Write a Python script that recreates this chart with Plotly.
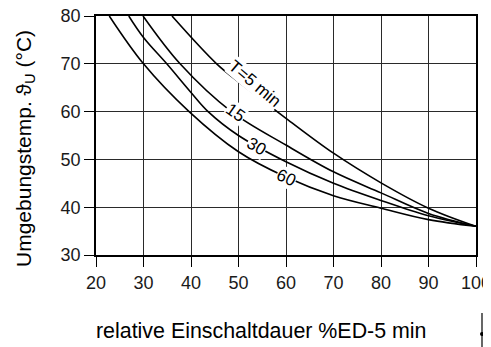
import plotly.graph_objects as go

# Data (x = relative Einschaltdauer %, y = Umgebungstemp. °C)
x_t5 = [36.0, 45.4, 50.3, 60.0, 70.0, 80.0, 90.0, 100.0]
y_t5 = [80.0, 70.0, 66.0, 58.6, 51.3, 45.1, 39.8, 36.0]

x_t15 = [29.9, 37.7, 48.5, 60.0, 70.0, 80.0, 90.0, 100.0]
y_t15 = [80.0, 70.0, 60.0, 53.0, 47.4, 43.0, 38.7, 36.0]

x_t30 = [26.9, 30.0, 34.9, 40.0, 43.6, 50.0, 60.0, 70.0, 80.0, 90.0, 100.0]
y_t30 = [80.0, 75.5, 70.0, 64.0, 60.0, 55.0, 49.5, 45.0, 41.4, 38.2, 36.0]

x_t60 = [22.8, 30.0, 39.6, 50.0, 60.0, 70.0, 80.0, 90.0, 100.0]
y_t60 = [80.0, 70.0, 60.0, 51.6, 46.3, 42.4, 39.8, 37.4, 36.0]

curve_labels = ["T=5 min", "15", "30", "60"]
label_x = [53.4, 49.3, 53.8, 60.0]
label_y = [65.9, 59.8, 52.7, 46.3]
label_angle = [40, 35, 30, 25]

x_ticks = [20, 30, 40, 50, 60, 70, 80, 90, 100]
y_ticks = [30, 40, 50, 60, 70, 80]

x_title = "relative Einschaltdauer %ED-5 min"
y_title = "Umgebungstemp. \u03d1<sub>U</sub> (\u00b0C)"

# page body has an 8px margin -> work in screen pixels and subtract it
OFF = 8
W, H = 491 - OFF, 347 - OFF
ML, MT = 96 - OFF, 16 - OFF
MR = W - (476 - OFF)
MB = H - (255 - OFF)
PW, PH = W - ML - MR, H - MT - MB

def px_to_paper_x(px):
    return (px - OFF - ML) / PW

def py_to_paper_y(py):
    return (H - MB - (py - OFF)) / PH

fig = go.Figure()
for xs, ys in [(x_t5, y_t5), (x_t15, y_t15), (x_t30, y_t30), (x_t60, y_t60)]:
    fig.add_trace(go.Scatter(x=xs, y=ys, mode="lines",
                             line=dict(color="black", width=1.6, shape="spline", smoothing=1.0),
                             showlegend=False, hoverinfo="skip"))

for t, lx, ly, ang in zip(curve_labels, label_x, label_y, label_angle):
    fig.add_annotation(x=lx, y=ly, text=t, showarrow=False, textangle=ang,
                       xanchor="center", yanchor="middle",
                       font=dict(family="Liberation Sans, Arial, sans-serif", size=17, color="black"),
                       bgcolor="white", borderpad=0)

fig.add_annotation(x=px_to_paper_x(261), y=py_to_paper_y(331), xref="paper", yref="paper",
                   xanchor="center", yanchor="middle",
                   text=x_title, showarrow=False,
                   font=dict(family="Liberation Sans, Arial, sans-serif", size=21.4, color="black"))
fig.add_annotation(x=px_to_paper_x(25), y=py_to_paper_y(149), xref="paper", yref="paper",
                   xanchor="center", yanchor="middle",
                   text=y_title, showarrow=False, textangle=-90,
                   font=dict(family="Liberation Sans, Arial, sans-serif", size=21, color="black"))

# small marker at bottom right
fig.add_shape(type="line", xref="paper", yref="paper",
              x0=px_to_paper_x(482), x1=px_to_paper_x(482),
              y0=py_to_paper_y(313), y1=py_to_paper_y(347),
              line=dict(color="black", width=1.2))
fig.add_shape(type="line", xref="paper", yref="paper",
              x0=px_to_paper_x(482), x1=px_to_paper_x(491),
              y0=py_to_paper_y(334), y1=py_to_paper_y(334),
              line=dict(color="black", width=1.2))
fig.add_shape(type="circle", xref="paper", yref="paper",
              x0=px_to_paper_x(480), x1=px_to_paper_x(484),
              y0=py_to_paper_y(332), y1=py_to_paper_y(336),
              fillcolor="black", line=dict(color="black", width=0))

tickfont = dict(family="Liberation Sans, Arial, sans-serif", size=18, color="#1a1a1a")
axis_style = dict(ticks="outside", ticklen=10, tickwidth=1.3, tickcolor="black",
                  showgrid=True, gridcolor="#2a2a2a", gridwidth=1.3, griddash="solid",
                  showline=True, linecolor="black", linewidth=1.8, mirror=True,
                  zeroline=False, tickfont=tickfont, automargin=False,
                  ticklabeloverflow="allow")
fig.update_layout(
    width=W, height=H,
    margin=dict(l=ML, r=MR, t=MT, b=MB, pad=0),
    paper_bgcolor="white", plot_bgcolor="white", showlegend=False,
    xaxis=dict(range=[20, 100], tickvals=x_ticks, **axis_style),
    yaxis=dict(range=[30, 80], tickvals=y_ticks, **axis_style),
)

fig.write_html("out.html")
